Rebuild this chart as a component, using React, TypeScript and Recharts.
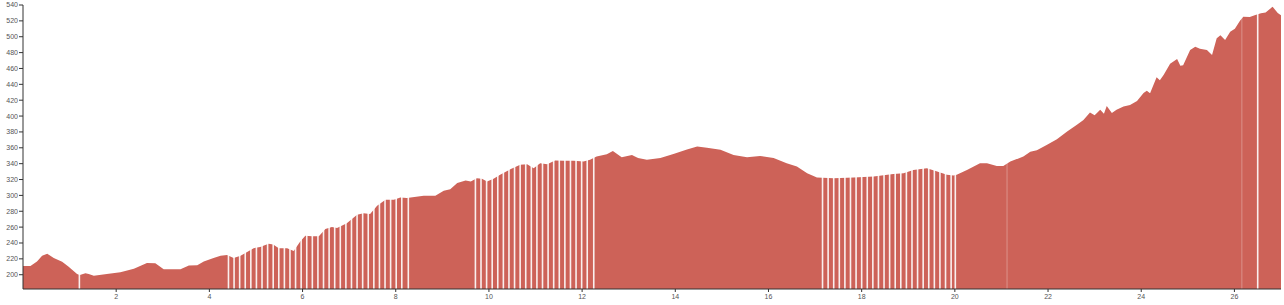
import React from "react";
import { AreaChart, Area, XAxis, YAxis, ReferenceLine } from "recharts";

const kmValues = [
  0, 0.16, 0.3, 0.41, 0.52, 0.66, 0.84, 0.98, 1.16, 1.22, 1.34, 1.41, 1.52, 1.8, 2.09, 2.38, 2.66, 2.84, 3.02, 3.38,
  3.56, 3.74, 3.88, 4.09, 4.24, 4.38, 4.52, 4.67, 4.95, 5.09, 5.27, 5.37, 5.49, 5.67, 5.81, 5.95, 6.06, 6.2, 6.35, 6.49,
  6.63, 6.74, 6.95, 7.17, 7.31, 7.45, 7.6, 7.78, 7.96, 8.1, 8.24, 8.6, 8.85, 9.03, 9.17, 9.32, 9.5, 9.61, 9.74, 9.85,
  9.96, 10.1, 10.24, 10.46, 10.67, 10.82, 10.96, 11.1, 11.25, 11.42, 11.6, 11.82, 12.03, 12.17, 12.31, 12.53, 12.66, 12.85, 13.07, 13.2,
  13.39, 13.68, 13.96, 14.25, 14.47, 14.68, 14.97, 15.25, 15.54, 15.82, 16.11, 16.39, 16.61, 16.83, 17.04, 17.4, 17.83, 18.26, 18.68, 18.9,
  19.11, 19.4, 19.62, 19.83, 19.97, 20.04, 20.26, 20.54, 20.69, 20.9, 21.04, 21.19, 21.47, 21.62, 21.76, 21.98, 22.19, 22.41, 22.62, 22.76,
  22.9, 23.0, 23.12, 23.2, 23.26, 23.37, 23.47, 23.62, 23.76, 23.91, 24.05, 24.12, 24.19, 24.33, 24.4, 24.48, 24.62, 24.77, 24.84, 24.9,
  25.05, 25.16, 25.26, 25.41, 25.52, 25.62, 25.7, 25.8, 25.91, 26.01, 26.12, 26.19, 26.33, 26.45, 26.57, 26.67, 26.82, 26.93, 27.0,
];

const elevValues = [
  211, 211, 216.7, 224, 226.5, 221, 216.5, 210, 201, 199.6, 202, 201, 198.7, 200.8, 203, 207.5, 214.7, 214.5, 207, 207,
  211.7, 212, 216.7, 221, 224, 224.8, 221, 224, 233.5, 234.8, 239, 238, 233.5, 233.5, 230, 242, 249, 248.5, 248.5, 257.5,
  260, 259, 265, 275.5, 277.6, 276.6, 286.8, 294.4, 294.4, 297.4, 296.6, 299.4, 299.4, 306, 307.7, 315.5, 318.8, 317.6, 321.7, 321,
  317.5, 321, 326, 333, 338.5, 339.4, 334.3, 340.6, 339.4, 344, 343.6, 343.6, 342.8, 344.8, 349, 352, 356, 348, 351, 347,
  344.8, 347, 352.3, 358, 361.6, 360, 357.4, 351, 348, 349.8, 347, 340.6, 336.4, 328, 322.5, 321.7, 322.5, 323.8, 327, 328,
  332, 334.3, 330, 326, 325, 326, 332, 340.6, 340.6, 337.2, 337, 342.6, 349, 355, 357, 363.7, 370.8, 380.4, 389, 395,
  404.4, 401, 407.8, 403, 412.8, 404, 407.8, 412, 414, 419, 429, 432, 428.8, 449, 445, 451.8, 466, 472, 463.5, 464,
  483.3, 487.5, 485, 483.3, 477, 498, 502, 496, 506.4, 510, 520, 525.3, 525, 527.4, 529.7, 530.5, 537.9, 530, 527,
];

const stripeKm = [
  1.21,
  4.41, 4.53, 4.65, 4.77, 4.89, 5.01, 5.13, 5.25, 5.37, 5.49, 5.61, 5.73, 5.85, 5.97, 6.09, 6.21, 6.33, 6.45, 6.57, 6.69,
  6.81, 6.93, 7.05, 7.17, 7.29, 7.41, 7.53, 7.65, 7.77, 7.89, 8.01, 8.13, 8.27,
  9.71, 9.83, 9.95, 10.07, 10.19, 10.31, 10.43, 10.55, 10.67, 10.79, 10.91, 11.03, 11.15, 11.27, 11.39, 11.51, 11.63, 11.75,
  11.87, 11.99, 12.11, 12.25,
  17.16, 17.28, 17.4, 17.52, 17.64, 17.76, 17.88, 18.0, 18.12, 18.24, 18.36, 18.48, 18.6, 18.72, 18.84, 18.96, 19.08, 19.2,
  19.32, 19.44, 19.56, 19.68, 19.8, 19.92, 20.01,
  26.5,
];

const faintStripeKm = [21.12, 26.16];

const xTicks = [2, 4, 6, 8, 10, 12, 14, 16, 18, 20, 22, 24, 26];
const yTicks = [200, 220, 240, 260, 280, 300, 320, 340, 360, 380, 400, 420, 440, 460, 480, 500, 520, 540];

const data = kmValues.map((km, i) => ({ km, elev: elevValues[i] }));

const FILL = "#cd6258";
const tickStyle = { fontSize: 7, fill: "#555", fontFamily: "Liberation Sans, Arial, sans-serif" };

export default function App() {
  return (
    <div style={{ position: "absolute", left: 0, top: 0, width: 1284, height: 305, background: "#fff" }}>
      <AreaChart width={1284} height={305} data={data} margin={{ top: 5, right: 3, bottom: 0, left: 0 }}>
        <XAxis
          dataKey="km"
          type="number"
          domain={[0, 27]}
          ticks={xTicks}
          interval={0}
          height={16}
          tickSize={3}
          tickMargin={2}
          tick={tickStyle}
          stroke="#333"
        />
        <YAxis
          type="number"
          domain={[182, 540]}
          ticks={yTicks}
          interval={0}
          width={23}
          tickSize={4}
          tickMargin={1}
          tick={tickStyle}
          stroke="#333"
          allowDataOverflow
        />
        <Area
          type="linear"
          dataKey="elev"
          stroke="none"
          fill={FILL}
          fillOpacity={1}
          isAnimationActive={false}
          dot={false}
          activeDot={false}
        />
        {stripeKm.map((k) => (
          <ReferenceLine key={"s" + k} x={k} stroke="#fff" strokeWidth={1.6} strokeOpacity={0.9} />
        ))}
        {faintStripeKm.map((k) => (
          <ReferenceLine key={"f" + k} x={k} stroke="#fff" strokeWidth={1} strokeOpacity={0.3} />
        ))}
      </AreaChart>
    </div>
  );
}
